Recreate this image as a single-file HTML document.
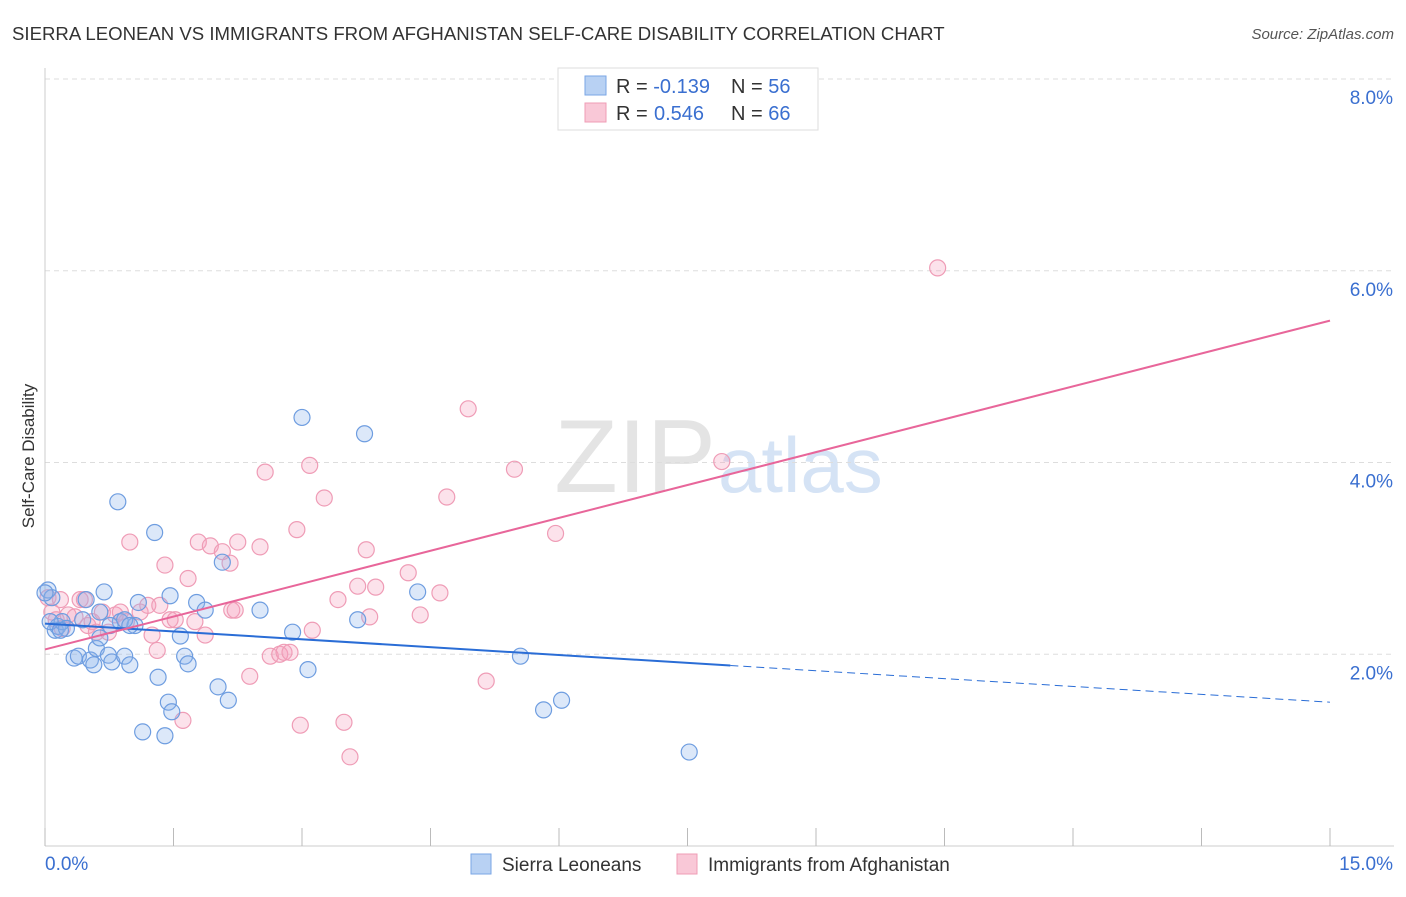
<!DOCTYPE html>
<html><head><meta charset="utf-8"><style>
body{margin:0;background:#fff;font-family:"Liberation Sans",sans-serif;}
svg text{font-family:"Liberation Sans",sans-serif;}
</style></head><body>
<svg id="chart" width="1406" height="892">
<text x="12" y="40" font-size="18.6" fill="#333">SIERRA LEONEAN VS IMMIGRANTS FROM AFGHANISTAN SELF-CARE DISABILITY CORRELATION CHART</text>
<text x="1394" y="39" font-size="15" fill="#555" font-style="italic" text-anchor="end">Source: ZipAtlas.com</text>
<text x="34" y="456" font-size="17" fill="#333" text-anchor="middle" transform="rotate(-90 34 456)">Self-Care Disability</text>
<text x="716" y="492" font-size="104" fill="#e4e4e4" text-anchor="end" font-family="Liberation Serif">ZIP</text>
<text x="718" y="492" font-size="78" fill="#d5e3f5">atlas</text>
<g id="grid"></g><g id="axes"></g><g id="marks"></g>
<g>
<rect x="558" y="68" width="260" height="62" fill="#fff" stroke="#ddd"/>
<rect x="585" y="76" width="21" height="19" fill="#b8d1f3" stroke="#7aa6e6"/>
<rect x="585" y="103" width="21" height="19" fill="#f9c8d7" stroke="#ef9cb6"/>
<text x="616" y="93" font-size="20" fill="#333">R = <tspan fill="#3a6fd0">-0.139</tspan><tspan x="731">N = </tspan><tspan fill="#3a6fd0">56</tspan></text>
<text x="616" y="120" font-size="20" fill="#333">R = <tspan x="654" fill="#3a6fd0">0.546</tspan><tspan x="731">N = </tspan><tspan fill="#3a6fd0">66</tspan></text>
</g>
<g>
<rect x="471" y="854" width="20" height="20" fill="#b8d1f3" stroke="#7aa6e6"/>
<text x="502" y="871" font-size="19" fill="#333">Sierra Leoneans</text>
<rect x="677" y="854" width="20" height="20" fill="#f9c8d7" stroke="#ef9cb6"/>
<text x="708" y="871" font-size="19" fill="#333">Immigrants from Afghanistan</text>
</g>
</svg>
<script>
const xTicks=[0,1.5,3,4.5,6,7.5,9,10.5,12,13.5,15];
const yTicks=[2,4,6,8];
const blueX=[0.035,0.08,0.12,0.15,0.2,0.25,0.34,0.39,0.44,0.48,0.53,0.57,0.6,0.64,0.69,0.74,0.78,0.85,0.88,0.93,0.99,1.05,1.09,1.14,1.28,1.32,1.4,1.44,1.46,1.48,1.58,1.63,1.67,1.77,1.87,2.02,2.07,2.14,2.51,2.89,3.0,3.07,3.65,3.73,4.35,5.55,5.82,6.03,7.52,0.06,0.18,0.64,0.93,0.99,0.0,0.76];
const blueY=[2.67,2.59,2.25,2.29,2.34,2.27,1.96,1.98,2.36,2.57,1.94,1.89,2.06,2.17,2.65,1.99,1.92,3.59,2.34,1.98,1.89,2.3,2.54,1.19,3.27,1.76,1.15,1.5,2.61,1.4,2.19,1.98,1.9,2.54,2.46,1.66,2.96,1.52,2.46,2.23,4.47,1.84,2.36,4.3,2.65,1.98,1.42,1.52,0.98,2.34,2.25,2.44,2.36,2.3,2.64,2.3];
const pinkX=[0.035,0.08,0.13,0.2,0.27,0.41,0.46,0.5,0.55,0.6,0.67,0.74,0.82,0.88,0.95,0.99,1.11,1.2,1.25,1.31,1.34,1.4,1.46,1.52,1.61,1.67,1.75,1.79,1.87,1.93,2.07,2.16,2.18,2.22,2.25,2.39,2.51,2.57,2.63,2.74,2.79,2.86,2.94,2.98,3.09,3.12,3.26,3.42,3.49,3.56,3.65,3.75,3.79,3.86,4.24,4.38,4.61,4.69,4.94,5.15,5.48,5.96,7.9,10.42,0.18,0.35];
const pinkY=[2.59,2.44,2.36,2.27,2.41,2.57,2.57,2.3,2.34,2.23,2.44,2.23,2.41,2.44,2.34,3.17,2.44,2.51,2.2,2.04,2.51,2.93,2.36,2.36,1.31,2.79,2.34,3.17,2.2,3.13,3.07,2.95,2.46,2.46,3.17,1.77,3.12,3.9,1.98,2.0,2.02,2.02,3.3,1.26,3.97,2.25,3.63,2.57,1.29,0.93,2.71,3.09,2.39,2.7,2.85,2.41,2.64,3.64,4.56,1.72,3.93,3.26,4.01,6.03,2.57,2.39];
const blueLine=[2.32,1.5];
const pinkLine=[2.05,5.48];
const sx=v=>45+v*(1285/15), sy=v=>846-v*95.875;
const NS='http://www.w3.org/2000/svg';
function mk(tag,attrs,parent){const e=document.createElementNS(NS,tag);for(const k in attrs)e.setAttribute(k,attrs[k]);document.getElementById(parent).appendChild(e);return e;}
yTicks.forEach(t=>{
 const l=mk('line',{x1:45,x2:1394,y1:sy(t),y2:sy(t),stroke:'#ddd','stroke-dasharray':'5,4'},'grid');
 
 
 const tx=mk('text',{x:1393,y:sy(t)+25,'font-size':19,fill:'#3a6fd0','text-anchor':'end'},'axes');tx.textContent=t.toFixed(1)+'%';
 
 
});
const al=mk('line',{x1:45,x2:1394,y1:846,y2:846,stroke:'#ccc'},'axes');


const yl=mk('line',{x1:45,x2:45,y1:68,y2:846,stroke:'#ccc'},'axes');


xTicks.forEach(t=>{const l=mk('line',{x1:sx(t),x2:sx(t),y1:828,y2:846,stroke:'#bbb'},'axes');
 
 });
const x0=mk('text',{x:45,y:870,'font-size':19,fill:'#3a6fd0'},'axes');x0.textContent=xTicks[0].toFixed(1)+'%';


const x1=mk('text',{x:1393,y:870,'font-size':19,fill:'#3a6fd0','text-anchor':'end'},'axes');x1.textContent=xTicks[xTicks.length-1].toFixed(1)+'%';


pinkX.forEach((v,i)=>{const c=mk('circle',{cx:sx(v),cy:sy(pinkY[i]),r:8,fill:'rgba(244,160,188,0.3)',stroke:'#ef9cb6','stroke-width':1.2},'marks');
 
 });
blueX.forEach((v,i)=>{const c=mk('circle',{cx:sx(v),cy:sy(blueY[i]),r:8,fill:'rgba(140,180,235,0.3)',stroke:'#6e9de0','stroke-width':1.2},'marks');
 
 });
const bAt=x=>blueLine[0]+(blueLine[1]-blueLine[0])*x/15;
const b1=mk('line',{x1:sx(0),y1:sy(bAt(0)),x2:sx(8),y2:sy(bAt(8)),stroke:'#2a6dd6','stroke-width':2},'marks');


const b2=mk('line',{x1:sx(8),y1:sy(bAt(8)),x2:sx(15),y2:sy(bAt(15)),stroke:'#2a6dd6','stroke-width':1,'stroke-dasharray':'8,5'},'marks');


const p=mk('line',{x1:sx(0),y1:sy(pinkLine[0]),x2:sx(15),y2:sy(pinkLine[1]),stroke:'#e8669a','stroke-width':2},'marks');


</script>
</body></html>
